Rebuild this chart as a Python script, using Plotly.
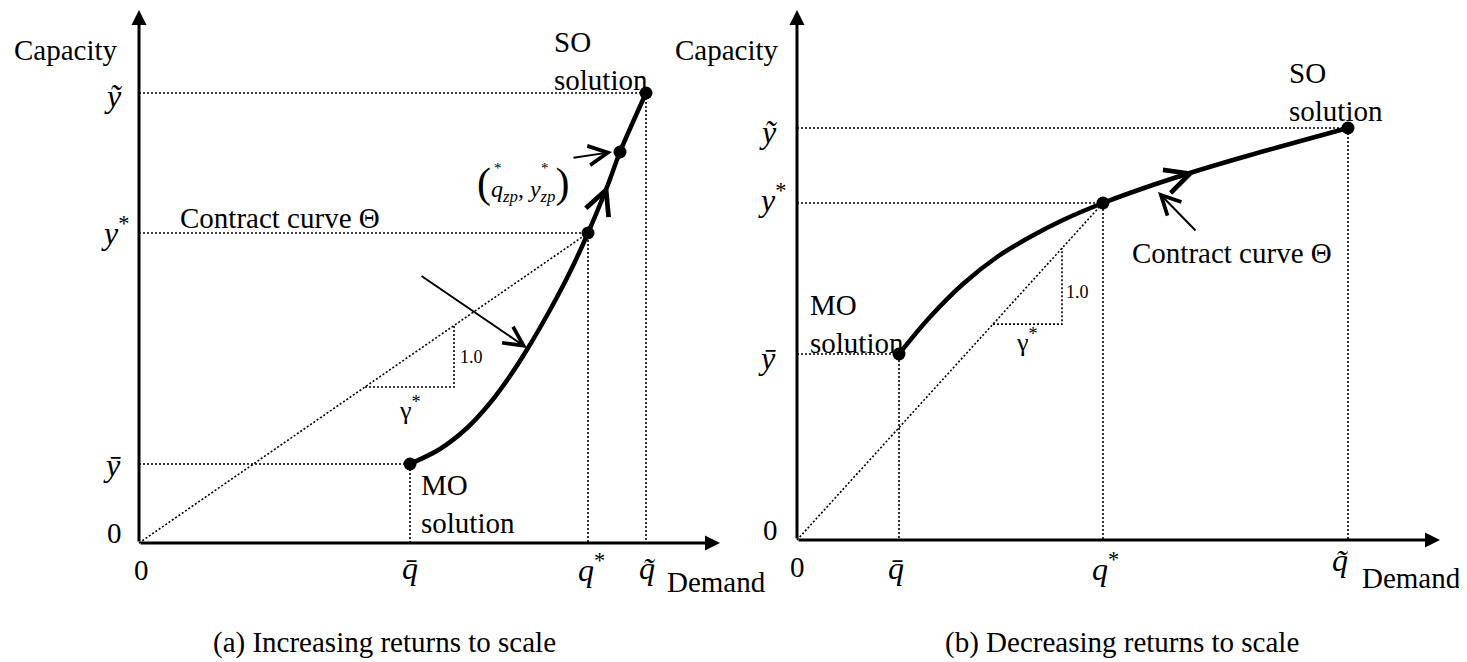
import plotly.graph_objects as go

FONT = "Liberation Serif"

# ---------------- Panel (a): increasing returns to scale ----------------
a_q_bar, a_q_star, a_q_tilde = 2.71, 4.49, 5.07
a_y_bar, a_y_star, a_y_tilde = 0.79, 3.10, 4.50
a_zp_q, a_zp_y = 4.81, 3.91
a_curve_q = [2.71, 3.01, 3.28, 3.51, 3.71, 3.89, 4.11, 4.31, 4.49, 4.68, 4.81, 5.07]
a_curve_y = [0.79, 0.94, 1.15, 1.40, 1.67, 1.95, 2.33, 2.71, 3.10, 3.56, 3.91, 4.50]
a_tri_q = [2.26, 3.15]
a_axis_max = (5.81, 5.33)

# ---------------- Panel (b): decreasing returns to scale ----------------
b_q_bar, b_q_star, b_q_tilde = 1.02, 3.06, 5.51
b_y_bar, b_y_star, b_y_tilde = 1.86, 3.37, 4.12
b_curve_q = [1.02, 1.33, 1.66, 2.00, 2.33, 2.66, 3.06, 3.50, 3.96, 4.50, 5.51]
b_curve_y = [1.86, 2.23, 2.56, 2.83, 3.03, 3.20, 3.37, 3.53, 3.68, 3.84, 4.12]
b_tri_q = [1.96, 2.65]
b_axis_max = (6.43, 5.30)

DOT = dict(color="black", width=1.6, dash="2px,2px")

fig = go.Figure()


def guides(xa, ya, pts, q_star, y_star, tri_q):
    for q, y in pts:
        fig.add_trace(go.Scatter(x=[0, q, q], y=[y, y, 0], mode="lines", line=DOT,
                                 xaxis=xa, yaxis=ya, hoverinfo="skip"))
    fig.add_trace(go.Scatter(x=[0, q_star], y=[0, y_star], mode="lines", line=DOT,
                             xaxis=xa, yaxis=ya, hoverinfo="skip"))
    s = y_star / q_star
    fig.add_trace(go.Scatter(x=[tri_q[0], tri_q[1], tri_q[1]],
                             y=[s * tri_q[0], s * tri_q[0], s * tri_q[1]],
                             mode="lines", line=DOT, xaxis=xa, yaxis=ya, hoverinfo="skip"))


guides("x", "y", [(a_q_bar, a_y_bar), (a_q_star, a_y_star), (a_q_tilde, a_y_tilde)],
       a_q_star, a_y_star, a_tri_q)
guides("x2", "y2", [(b_q_bar, b_y_bar), (b_q_star, b_y_star), (b_q_tilde, b_y_tilde)],
       b_q_star, b_y_star, b_tri_q)

# contract curves
fig.add_trace(go.Scatter(x=a_curve_q, y=a_curve_y, mode="lines",
                         line=dict(color="black", width=4.5, shape="spline", smoothing=0.8),
                         xaxis="x", yaxis="y", hoverinfo="skip"))
fig.add_trace(go.Scatter(x=b_curve_q, y=b_curve_y, mode="lines",
                         line=dict(color="black", width=4.5, shape="spline", smoothing=1.0),
                         xaxis="x2", yaxis="y2", hoverinfo="skip"))

# points
fig.add_trace(go.Scatter(x=[a_q_bar, a_q_star, a_zp_q, a_q_tilde],
                         y=[a_y_bar, a_y_star, a_zp_y, a_y_tilde], mode="markers",
                         marker=dict(color="black", size=13), xaxis="x", yaxis="y",
                         hoverinfo="skip"))
fig.add_trace(go.Scatter(x=[b_q_bar, b_q_star, b_q_tilde],
                         y=[b_y_bar, b_y_star, b_y_tilde], mode="markers",
                         marker=dict(color="black", size=13), xaxis="x2", yaxis="y2",
                         hoverinfo="skip"))

anns = []


def arrow(xa, ya, x0, y0, x1, y1, width, head, size=1.0):
    anns.append(dict(x=x1, y=y1, ax=x0, ay=y0, xref=xa, yref=ya, axref=xa, ayref=ya,
                     text="", showarrow=True, arrowhead=head, arrowwidth=width,
                     arrowsize=size, arrowcolor="black", standoff=0, startstandoff=0))


def txt(xa, ya, x, y, text, size=29, xanchor="center", yanchor="middle", align="center"):
    anns.append(dict(x=x, y=y, xref=xa, yref=ya, text=text, showarrow=False,
                     font=dict(family=FONT, size=size, color="black"),
                     xanchor=xanchor, yanchor=yanchor, align=align))


# axes with arrows
arrow("x", "y", 0, 0, 0, a_axis_max[1], 3, 2)
arrow("x", "y", 0, 0, a_axis_max[0], 0, 3, 2)
arrow("x2", "y2", 0, 0, 0, b_axis_max[1], 3, 2)
arrow("x2", "y2", 0, 0, b_axis_max[0], 0, 3, 2)

# direction chevrons on curves
arrow("x", "y", 4.62, 3.40, 4.69, 3.58, 3.2, 5, 1.5)
arrow("x2", "y2", 3.80, 3.62, 3.98, 3.68, 3.2, 5, 1.5)

# pointer arrows
arrow("x", "y", 2.81, 2.68, 3.88, 1.95, 2, 5, 1.9)
arrow("x", "y", 4.33, 3.85, 4.73, 3.91, 2, 5, 1.9)
arrow("x2", "y2", 4.00, 3.08, 3.61, 3.48, 2, 5, 1.9)

# ---- texts panel (a)
txt("x", "y", -0.73, 4.93, "Capacity")
txt("x", "y", -0.26, 4.47, "<i>\u1ef9</i>", 32)
txt("x", "y", -0.24, 3.12, "<i>y</i><sup>*</sup>", 32)
txt("x", "y", -0.27, 0.78, "<i>\u0233</i>", 32)
txt("x", "y", -0.25, 0.10, "0")
txt("x", "y", 0.02, -0.27, "0")
txt("x", "y", a_q_bar, -0.25, "<i>q\u0304</i>", 32)
txt("x", "y", a_q_star + 0.03, -0.25, "<i>q</i><sup>*</sup>", 32)
txt("x", "y", a_q_tilde + 0.01, -0.25, "<i>q\u0303</i>", 32)
txt("x", "y", 5.26, -0.39, "Demand", xanchor="left")
txt("x", "y", 4.13, 4.82, "SO<br>solution", xanchor="left", align="left")
txt("x", "y", 2.80, 0.39, "MO<br>solution", xanchor="left", align="left")
txt("x", "y", 0.39, 3.25, "Contract curve \u0398", xanchor="left")
txt("x", "y", 3.84, 3.60,
    '<span style="font-size:42px">(</span><i>q</i><sub><i>zp</i></sub>, '
    '<i>y</i><sub><i>zp</i></sub><span style="font-size:42px">)</span>', 24)
txt("x", "y", 3.59, 3.75, "*", 15)
txt("x", "y", 4.06, 3.75, "*", 15)
txt("x", "y", 3.32, 1.86, "1.0", 18)
txt("x", "y", 2.71, 1.35, "\u03b3<sup>*</sup>", 26)
txt("x", "y", 2.45, -0.99, "(a) Increasing returns to scale")

# ---- texts panel (b)
txt("x2", "y2", -0.70, 4.90, "Capacity")
txt("x2", "y2", -0.29, 4.08, "<i>\u1ef9</i>", 32)
txt("x2", "y2", -0.25, 3.42, "<i>y</i><sup>*</sup>", 32)
txt("x2", "y2", -0.30, 1.82, "<i>\u0233</i>", 32)
txt("x2", "y2", -0.27, 0.10, "0")
txt("x2", "y2", 0.0, -0.27, "0")
txt("x2", "y2", b_q_bar - 0.03, -0.28, "<i>q\u0304</i>", 32)
txt("x2", "y2", b_q_star + 0.02, -0.27, "<i>q</i><sup>*</sup>", 32)
txt("x2", "y2", b_q_tilde - 0.08, -0.20, "<i>q\u0303</i>", 32)
txt("x2", "y2", 5.63, -0.38, "Demand", xanchor="left")
txt("x2", "y2", 4.90, 4.48, "SO<br>solution", xanchor="left", align="left")
txt("x2", "y2", 0.11, 2.16, "MO<br>solution", xanchor="left", align="left")
txt("x2", "y2", 4.35, 2.87, "Contract curve \u0398")
txt("x2", "y2", 2.80, 2.48, "1.0", 18)
txt("x2", "y2", 2.30, 2.00, "\u03b3<sup>*</sup>", 26)
txt("x2", "y2", 3.25, -1.02, "(b) Decreasing returns to scale")

# page body has an 8px margin: figure is 1459x654, data mapped at 100 px per unit
W, H = 1459, 654
b_dom0 = 650 / W
ax_common = dict(visible=False, showgrid=False, zeroline=False, fixedrange=True)
fig.update_layout(
    width=W, height=H,
    margin=dict(l=0, r=0, t=0, b=0),
    paper_bgcolor="white", plot_bgcolor="rgba(0,0,0,0)",
    showlegend=False, hovermode=False,
    font=dict(family=FONT, size=29, color="black"),
    xaxis=dict(domain=[0, 0.5], range=[-1.31, -1.31 + 0.5 * W / 100], anchor="y", **ax_common),
    yaxis=dict(domain=[0, 1], range=[-1.19, -1.19 + H / 100], anchor="x", **ax_common),
    xaxis2=dict(domain=[b_dom0, 1], range=[-1.39, -1.39 + (W - 650) / 100], anchor="y2", **ax_common),
    yaxis2=dict(domain=[0, 1], range=[-1.22, -1.22 + H / 100], anchor="x2", **ax_common),
    annotations=anns,
)

fig.write_html("out.html", config={"displayModeBar": False})
